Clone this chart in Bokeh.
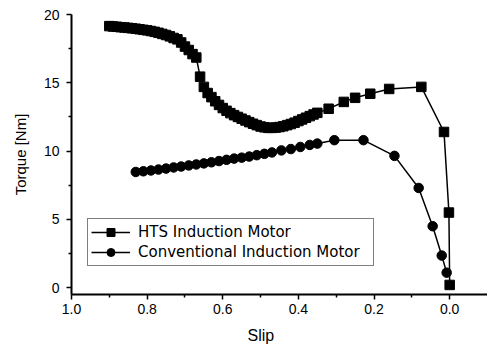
from bokeh.plotting import figure
from bokeh.models import (Legend, LegendItem, FixedTicker, NumeralTickFormatter, Range1d, Title)
from bokeh.embed import file_html
from bokeh.resources import INLINE

# ---- data ----
hts_slip = [0.90, 0.89, 0.88, 0.87, 0.86, 0.85, 0.84, 0.83, 0.82, 0.81,
            0.80, 0.79, 0.78, 0.77, 0.76, 0.75, 0.74, 0.73, 0.72, 0.71,
            0.70, 0.69, 0.68, 0.67, 0.66, 0.65, 0.64, 0.63, 0.62, 0.61,
            0.60, 0.59, 0.58, 0.57, 0.56, 0.55, 0.54, 0.53, 0.52, 0.51,
            0.50, 0.49, 0.48, 0.47, 0.46, 0.45, 0.44, 0.43, 0.42, 0.41,
            0.40, 0.39, 0.38, 0.37, 0.36, 0.35, 0.32, 0.28, 0.25, 0.21,
            0.16, 0.075, 0.015, 0.002, 0.0]
hts_torque = [19.15, 19.12, 19.10, 19.07, 19.05, 19.02, 18.99, 18.96, 18.92, 18.88,
              18.84, 18.79, 18.73, 18.66, 18.58, 18.50, 18.40, 18.28, 18.18, 17.95,
              17.65, 17.40, 17.10, 16.85, 15.45, 14.70, 14.25, 13.95, 13.65, 13.38,
              13.15, 12.95, 12.78, 12.63, 12.50, 12.37, 12.24, 12.12, 12.00, 11.90,
              11.80, 11.74, 11.70, 11.70, 11.72, 11.76, 11.82, 11.90, 11.98, 12.08,
              12.20, 12.32, 12.44, 12.56, 12.68, 12.80, 13.10, 13.60, 13.90, 14.20,
              14.55, 14.70, 11.40, 5.50, 0.20]

conv_slip = [0.83, 0.81, 0.79, 0.77, 0.75, 0.73, 0.71, 0.69, 0.67, 0.65,
             0.63, 0.61, 0.59, 0.57, 0.55, 0.53, 0.51, 0.49, 0.47, 0.445,
             0.42, 0.395, 0.37, 0.35, 0.305, 0.228, 0.146, 0.082, 0.045, 0.021,
             0.008]
conv_torque = [8.47, 8.52, 8.58, 8.65, 8.72, 8.80, 8.87, 8.95, 9.02, 9.10,
               9.18, 9.27, 9.36, 9.45, 9.52, 9.60, 9.70, 9.80, 9.90, 10.05,
               10.15, 10.30, 10.45, 10.55, 10.80, 10.80, 9.65, 7.30, 4.50, 2.35,
               1.10]

x_major = [1.0, 0.8, 0.6, 0.4, 0.2, 0.0]
x_minor = [0.9, 0.7, 0.5, 0.3, 0.1]
y_major = [0, 5, 10, 15, 20]
y_minor = [2.5, 7.5, 12.5, 17.5]

series_names = ["HTS Induction Motor", "Conventional Induction Motor"]
x_label = "Slip"
y_label = "Torque [Nm]"

FONT = "Liberation Sans"

p = figure(width=487, height=351, output_backend="svg", toolbar_location=None,
           x_range=Range1d(1.0, -0.1), y_range=Range1d(-0.5, 20),
           min_border_left=71, min_border_right=0, min_border_top=14,
           min_border_bottom=0)
p.outline_line_color = None
p.xgrid.visible = False
p.ygrid.visible = False
p.background_fill_color = "white"
p.border_fill_color = "white"

l1 = p.line(hts_slip, hts_torque, line_color="black", line_width=1.5)
s1 = p.scatter(hts_slip, hts_torque, marker="square", size=9.5,
               fill_color="black", line_color="black")
l2 = p.line(conv_slip, conv_torque, line_color="black", line_width=1.5)
s2 = p.scatter(conv_slip, conv_torque, marker="circle", size=9.5,
               fill_color="black", line_color="black")

for ax in (p.xaxis[0], p.yaxis[0]):
    ax.axis_line_width = 2
    ax.axis_line_color = "black"
    ax.major_tick_line_width = 1.5
    ax.minor_tick_line_width = 1.5
    ax.major_tick_out = 5
    ax.major_tick_in = 0
    ax.minor_tick_out = 3
    ax.minor_tick_in = 0
    ax.major_label_text_font = FONT
    ax.major_label_text_font_size = "14px"
    ax.major_label_text_color = "black"
    ax.axis_label_text_font = FONT
    ax.axis_label_text_font_size = "15px"
    ax.axis_label_text_font_style = "normal"
    ax.axis_label_text_color = "black"

p.xaxis[0].ticker = FixedTicker(ticks=x_major, minor_ticks=x_minor)
p.xaxis[0].formatter = NumeralTickFormatter(format="0.0")
p.xaxis[0].major_label_standoff = 4
p.yaxis[0].ticker = FixedTicker(ticks=y_major, minor_ticks=y_minor)
p.yaxis[0].formatter = NumeralTickFormatter(format="0")
p.yaxis[0].major_label_standoff = 7
p.yaxis[0].axis_label = y_label
p.yaxis[0].axis_label_standoff = 12

slip_title = Title(text=x_label, align="left", offset=176, vertical_align="bottom",
                   text_font=FONT, text_font_size="16px", text_color="black",
                   text_font_style="normal", standoff=16)
p.add_layout(slip_title, "below")

legend = Legend(items=[LegendItem(label=series_names[0], renderers=[l1, s1]),
                       LegendItem(label=series_names[1], renderers=[l2, s2])],
                location=(16, 28), orientation="vertical",
                glyph_width=39, glyph_height=20, label_height=20,
                label_width=232, label_standoff=8, padding=3, spacing=0,
                margin=0, border_line_color="black", border_line_width=1.5,
                background_fill_color="white", background_fill_alpha=1.0,
                label_text_font="DejaVu Sans", label_text_font_size="15px",
                label_text_color="black")
p.add_layout(legend)

open("out.html", "w").write(file_html(p, INLINE))
